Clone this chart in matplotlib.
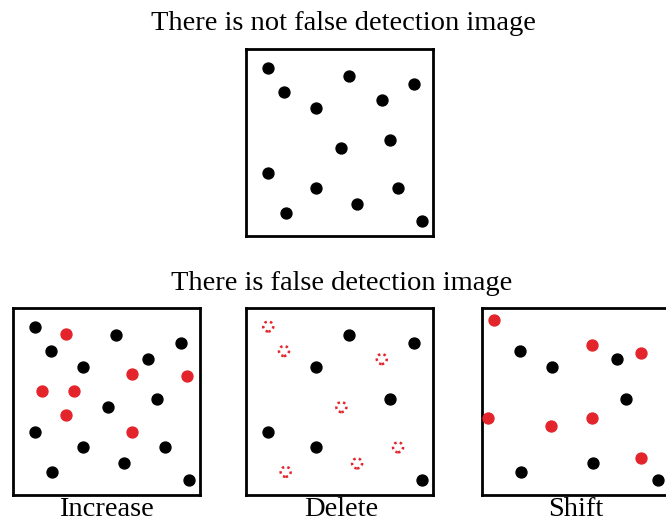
import matplotlib.pyplot as plt

# dot positions in % of box (x from left, y from top)
base_x = [11.9, 55.2, 90.0, 20.3, 72.6, 37.6, 77.0, 51.0, 11.9, 37.6, 81.3, 59.4, 21.2, 94.3]
base_y = [9.9, 14.2, 18.8, 23.0, 27.3, 31.5, 48.8, 53.0, 66.1, 74.5, 74.5, 83.1, 87.6, 92.0]

# Increase: all base dots plus extra red ones
inc_red_x = [28.6, 63.8, 93.4, 15.7, 33.0, 28.6, 63.8]
inc_red_y = [13.9, 35.5, 36.4, 44.6, 44.6, 57.1, 66.1]

# Delete: kept dots in black, missing dots as dotted red rings
del_keep = [1, 2, 5, 6, 8, 9, 13]
del_lost = [0, 3, 4, 7, 10, 11, 12]

# Shift: kept dots in black, moved dots in red
shift_keep = [3, 5, 4, 6, 12, 11, 13]
shift_red_x = [6.4, 59.1, 85.2, 3.6, 37.1, 59.1, 85.2]
shift_red_y = [6.4, 19.6, 23.9, 58.7, 62.9, 58.6, 80.4]

W, H = 666, 523
RED = "#e3242b"
DOT = 62


def box_axes(fig, left, top, size=187):
    ax = fig.add_axes([left / W, 1 - (top + size) / H, size / W, size / H])
    ax.set_xlim(0, 100)
    ax.set_ylim(100, 0)
    ax.set_xticks([])
    ax.set_yticks([])
    for sp in ax.spines.values():
        sp.set_linewidth(2)
    return ax


def pick(vals, idx):
    return [vals[i] for i in idx]


fig = plt.figure(figsize=(W / 100, H / 100), dpi=100)
serif = ["Liberation Serif", "DejaVu Serif"]

fig.text(343 / W, 1 - 24 / H, "There is not false detection image",
         ha="center", va="center", fontsize=20.5, family=serif)
fig.text(342 / W, 1 - 284 / H, "There is false detection image",
         ha="center", va="center", fontsize=20.5, family=serif)

# original
ax = box_axes(fig, 246, 49)
ax.scatter(base_x, base_y, s=DOT, color="black", clip_on=False, zorder=3)

# increase
ax = box_axes(fig, 12.7, 308)
ax.scatter(base_x, base_y, s=DOT, color="black", zorder=3)
ax.scatter(inc_red_x, inc_red_y, s=DOT, color=RED, zorder=3)

# delete
ax = box_axes(fig, 246, 308)
ax.scatter(pick(base_x, del_keep), pick(base_y, del_keep), s=DOT, color="black", zorder=3)
ax.scatter(pick(base_x, del_lost), pick(base_y, del_lost), s=52, facecolors="none",
           edgecolors=RED, linewidths=1.8, linestyle=(0, (1, 1.3)), zorder=3)

# shift (box runs past the right edge)
ax = box_axes(fig, 481.7, 308)
ax.scatter(pick(base_x, shift_keep), pick(base_y, shift_keep), s=DOT, color="black", zorder=3)
ax.scatter(shift_red_x, shift_red_y, s=DOT, color=RED, clip_on=False, zorder=3)

for cx, lab in [(106, "Increase"), (341, "Delete"), (576, "Shift")]:
    fig.text(cx / W, 1 - 497 / H, lab, ha="center", va="top", fontsize=20.5, family=serif)

fig.savefig("out.png", dpi=100, facecolor="white")
